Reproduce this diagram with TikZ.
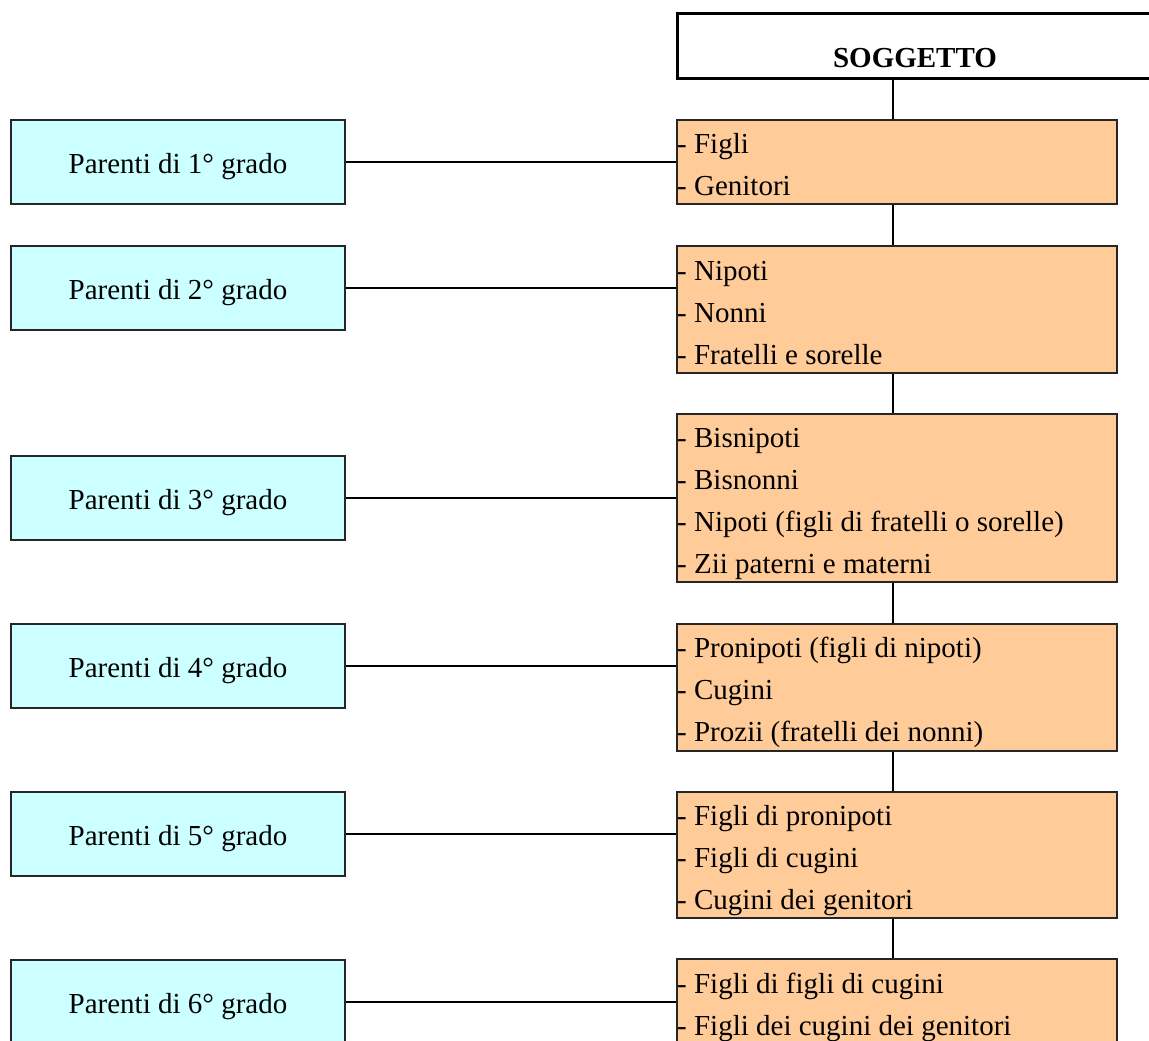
\documentclass[tikz,border=0pt]{standalone}
\usepackage{fontspec}
\setmainfont{Liberation Serif}
\usetikzlibrary{calc}
\definecolor{cyanbox}{HTML}{CCFFFF}
\definecolor{orangebox}{HTML}{FFCC99}
\newcommand\fs{\fontsize{29}{34}\selectfont}
\tikzset{
  lbox/.style={draw=black!85, line width=2pt, fill=cyanbox, minimum width=334pt, minimum height=84pt, anchor=north west, inner sep=0pt},
  obox/.style={draw=black!85, line width=2pt, fill=orangebox, minimum width=440pt, anchor=north west, inner sep=0pt},
  sbox/.style={draw=black, line width=3pt, fill=white, minimum width=484pt, minimum height=65pt, anchor=north west, inner sep=0pt},
  item/.style={anchor=base west, inner sep=0pt, font=\fs},
  ltext/.style={anchor=base, inner sep=0pt, font=\fs},
  conn/.style={line width=2pt, draw=black}
}
\begin{document}
\begin{tikzpicture}[x=1pt,y=-1pt]
\useasboundingbox (0,0) rectangle (1149,1041);
\clip (0,0) rectangle (1149,1041);
\coordinate (spine) at (893,0);

% subject
\node[sbox] (s) at (676,12) {};
\node[ltext, font=\fs\bfseries] (st) at (915,68) {SOGGETTO};

% left boxes
\node[lbox] (l1) at (10,119) {};
\node[lbox] (l2) at (10,245) {};
\node[lbox] (l3) at (10,455) {};
\node[lbox] (l4) at (10,623) {};
\node[lbox] (l5) at (10,791) {};
\node[lbox] (l6) at (10,959) {};
\foreach \n/\g in {1/1,2/2,3/3,4/4,5/5,6/6}{
  \node[ltext] (lt\n) at ($(l\n.center)+(0,11)$) {Parenti di \g° grado};
}

% right boxes
\node[obox, minimum height=84pt] (o1) at (676,119) {};
\node[obox, minimum height=127pt] (o2) at (676,245) {};
\node[obox, minimum height=168pt] (o3) at (676,413) {};
\node[obox, minimum height=127pt] (o4) at (676,623) {};
\node[obox, minimum height=126pt] (o5) at (676,791) {};
\node[obox, minimum height=85pt] (o6) at (676,958) {};

\node[item] (i11) at (677,153) {- Figli};
\node[item] (i12) at (677,195) {- Genitori};

\node[item] (i21) at (677,280) {- Nipoti};
\node[item] (i22) at (677,322) {- Nonni};
\node[item] (i23) at (677,364) {- Fratelli e sorelle};

\node[item] (i31) at (677,447) {- Bisnipoti};
\node[item] (i32) at (677,489) {- Bisnonni};
\node[item] (i33) at (677,531) {- Nipoti (figli di fratelli o sorelle)};
\node[item] (i34) at (677,573) {- Zii paterni e materni};

\node[item] (i41) at (677,657) {- Pronipoti (figli di nipoti)};
\node[item] (i42) at (677,699) {- Cugini};
\node[item] (i43) at (677,741) {- Prozii (fratelli dei nonni)};

\node[item] (i51) at (677,825) {- Figli di pronipoti};
\node[item] (i52) at (677,867) {- Figli di cugini};
\node[item] (i53) at (677,909) {- Cugini dei genitori};

\node[item] (i61) at (677,993) {- Figli di figli di cugini};
\node[item] (i62) at (677,1035) {- Figli dei cugini dei genitori};

% horizontal connectors
\foreach \n in {1,...,6}{
  \draw[conn] (l\n.east) -- (l\n.east -| o\n.west);
}
% spine connectors
\draw[conn] (spine |- s.south) -- (spine |- o1.north);
\draw[conn] (spine |- o1.south) -- (spine |- o2.north);
\draw[conn] (spine |- o2.south) -- (spine |- o3.north);
\draw[conn] (spine |- o3.south) -- (spine |- o4.north);
\draw[conn] (spine |- o4.south) -- (spine |- o5.north);
\draw[conn] (spine |- o5.south) -- (spine |- o6.north);
\end{tikzpicture}
\end{document}
